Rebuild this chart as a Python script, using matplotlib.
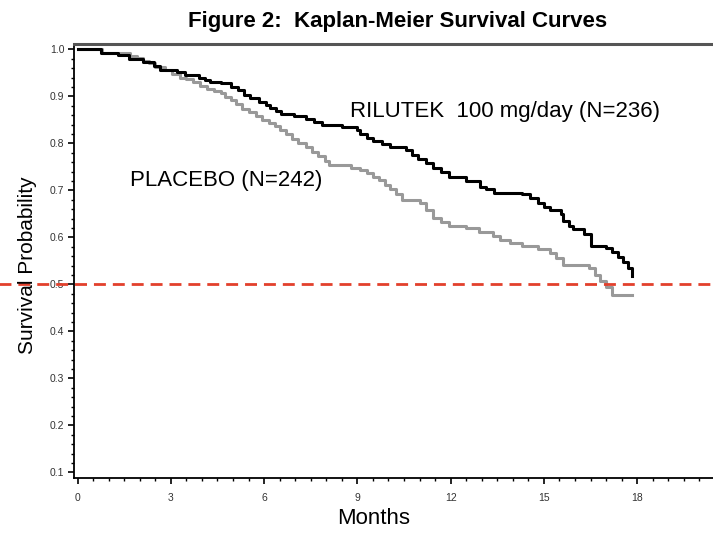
import matplotlib
matplotlib.use("Agg")
import matplotlib.pyplot as plt
from matplotlib.ticker import MultipleLocator, FormatStrFormatter

plt.rcParams['font.family'] = ['Liberation Sans', 'DejaVu Sans']

# Kaplan-Meier step values (months, survival probability)
rilutek_t = [0, 0.75, 1.3, 1.65, 2.1, 2.45, 2.65, 3.2, 3.45, 3.9, 4.1, 4.25,
             4.6, 4.95, 5.15, 5.35, 5.55, 5.85, 6.05, 6.2, 6.4, 6.55, 6.95,
             7.35, 7.6, 7.85, 8.5, 9.0, 9.1, 9.3, 9.5, 9.8, 10.05, 10.55,
             10.75, 10.95, 11.2, 11.45, 11.7, 11.95, 12.5, 12.95, 13.15, 13.4,
             14.3, 14.55, 14.8, 15.0, 15.2, 15.55, 15.6, 15.8, 15.95, 16.3,
             16.5, 17.0, 17.2, 17.4, 17.55, 17.7, 17.85]
rilutek_s = [1.0, 0.993, 0.987, 0.980, 0.973, 0.965, 0.957, 0.952, 0.945,
             0.940, 0.934, 0.930, 0.928, 0.920, 0.913, 0.903, 0.896, 0.888,
             0.882, 0.876, 0.869, 0.862, 0.858, 0.852, 0.846, 0.839, 0.834,
             0.829, 0.820, 0.812, 0.805, 0.799, 0.793, 0.786, 0.775, 0.767,
             0.758, 0.748, 0.738, 0.729, 0.719, 0.708, 0.702, 0.695, 0.693,
             0.683, 0.672, 0.665, 0.658, 0.650, 0.634, 0.624, 0.617, 0.608,
             0.582, 0.577, 0.568, 0.558, 0.547, 0.535, 0.518]

placebo_t = [0, 0.8, 1.7, 1.9, 2.1, 2.3, 2.5, 2.8, 3.05, 3.3, 3.5, 3.7, 3.95,
             4.15, 4.4, 4.6, 4.75, 4.95, 5.1, 5.3, 5.5, 5.75, 5.95, 6.15, 6.35,
             6.5, 6.7, 6.9, 7.1, 7.35, 7.55, 7.75, 7.95, 8.1, 8.8, 9.1, 9.3,
             9.5, 9.7, 9.9, 10.05, 10.25, 10.45, 11.0, 11.2, 11.45, 11.7,
             11.95, 12.5, 12.9, 13.35, 13.6, 13.9, 14.3, 14.8, 15.2, 15.4,
             15.6, 16.45, 16.65, 16.8, 17.0, 17.2, 17.85]
placebo_s = [1.0, 0.993, 0.985, 0.981, 0.975, 0.970, 0.963, 0.955, 0.948,
             0.940, 0.936, 0.931, 0.922, 0.916, 0.912, 0.906, 0.899, 0.892,
             0.884, 0.874, 0.866, 0.858, 0.850, 0.843, 0.836, 0.828, 0.819,
             0.809, 0.800, 0.792, 0.782, 0.774, 0.763, 0.753, 0.748, 0.743,
             0.737, 0.729, 0.722, 0.712, 0.703, 0.692, 0.680, 0.672, 0.658,
             0.642, 0.632, 0.625, 0.619, 0.611, 0.602, 0.595, 0.588, 0.582,
             0.575, 0.567, 0.555, 0.542, 0.534, 0.520, 0.508, 0.495, 0.477,
             0.477]

x_ticks = [0, 3, 6, 9, 12, 15, 18]
y_ticks = [0.1, 0.2, 0.3, 0.4, 0.5, 0.6, 0.7, 0.8, 0.9, 1.0]

W, H = 713, 533
fig = plt.figure(figsize=(W / 100, H / 100), dpi=100)
ax = fig.add_axes([73.5 / W, (H - 478) / H, (W - 73.5) / W, (478 - 44) / H])

ax.step(placebo_t, placebo_s, where='post', color='#999999', lw=2.2)
ax.step(rilutek_t, rilutek_s, where='post', color='black', lw=2.2)

# median reference line, runs across the whole figure width
ax.axhline(0.5, xmin=-0.12, xmax=1.0, color='#e2402c', lw=2,
           dashes=(4.3, 2.5), clip_on=False, zorder=5)

ax.set_xlim(-0.129, 20.44)
ax.set_ylim(0.0879, 1.0113)

ax.set_xticks(x_ticks)
ax.set_yticks(y_ticks)
ax.xaxis.set_minor_locator(MultipleLocator(0.5))
ax.yaxis.set_minor_locator(MultipleLocator(0.02))
ax.yaxis.set_major_formatter(FormatStrFormatter('%.1f'))
ax.tick_params(which='major', length=4.5, width=1.2, labelsize=7.5,
               labelcolor='#333333', direction='out')
ax.tick_params(axis='x', which='major', pad=6)
ax.tick_params(axis='y', which='major', pad=2)
ax.tick_params(which='minor', length=2.5, width=1.0, direction='out')

ax.spines['right'].set_visible(False)
ax.spines['top'].set_linewidth(2.2)
ax.spines['top'].set_color('#555555')
ax.spines['left'].set_linewidth(1.3)
ax.spines['bottom'].set_linewidth(1.3)

ax.text(8.76, 0.867, 'RILUTEK  100 mg/day (N=236)', fontsize=16,
        va='center', ha='left')
ax.text(1.69, 0.720, 'PLACEBO (N=242)', fontsize=16, va='center', ha='left')

fig.text(398 / W, 1 - 21 / H, 'Figure 2:  Kaplan-Meier Survival Curves',
         fontsize=16, fontweight='bold', ha='center', va='center')
fig.text(27.5 / W, 1 - 265 / H, 'Survival Probability', fontsize=15,
         rotation=90, ha='center', va='center')
fig.text(374 / W, 1 - 518 / H, 'Months', fontsize=16, ha='center', va='center')

fig.savefig('out.png', dpi=100)
